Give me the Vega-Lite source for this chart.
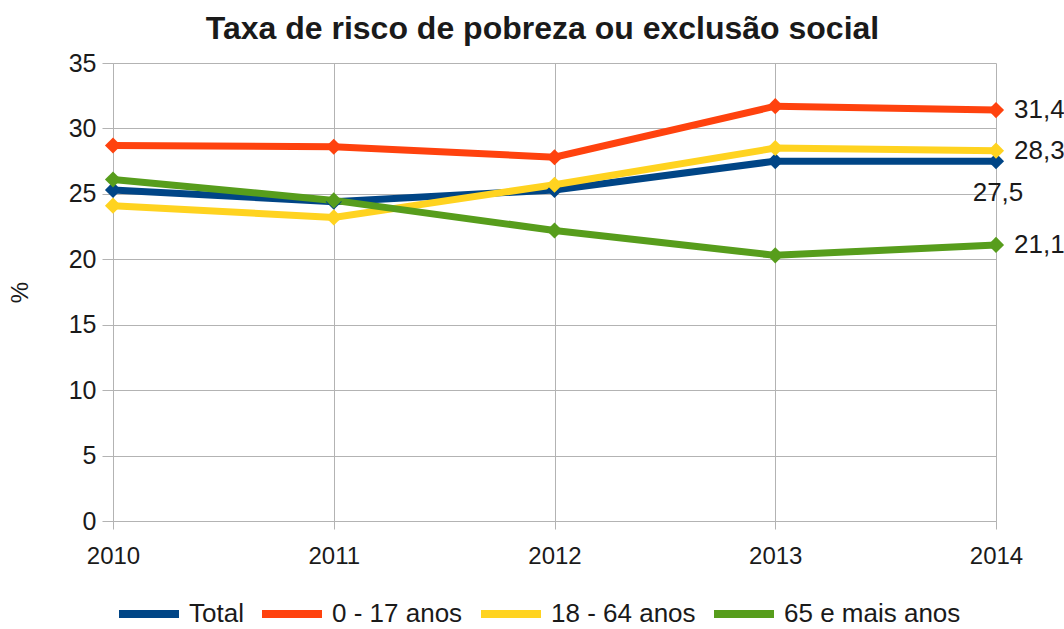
{
  "$schema": "https://vega.github.io/schema/vega-lite/v6.json",
  "autosize": {"type": "none"},
  "width": 883,
  "height": 458,
  "padding": {"left": 113, "top": 63, "right": 68, "bottom": 108},
  "background": "white",
  "title": {
    "text": "Taxa de risco de pobreza ou exclusão social",
    "font": "Liberation Sans",
    "fontSize": 32,
    "fontWeight": "bold",
    "color": "#1a1a1a",
    "anchor": "middle",
    "dx": -12,
    "offset": 5
  },
  "data": {
    "values": [
      {"ano": 2010, "grupo": "Total", "taxa": 25.3},
      {"ano": 2011, "grupo": "Total", "taxa": 24.4},
      {"ano": 2012, "grupo": "Total", "taxa": 25.3},
      {"ano": 2013, "grupo": "Total", "taxa": 27.5},
      {"ano": 2014, "grupo": "Total", "taxa": 27.5},
      {"ano": 2010, "grupo": "0 - 17 anos", "taxa": 28.7},
      {"ano": 2011, "grupo": "0 - 17 anos", "taxa": 28.6},
      {"ano": 2012, "grupo": "0 - 17 anos", "taxa": 27.8},
      {"ano": 2013, "grupo": "0 - 17 anos", "taxa": 31.7},
      {"ano": 2014, "grupo": "0 - 17 anos", "taxa": 31.4},
      {"ano": 2010, "grupo": "18 - 64 anos", "taxa": 24.1},
      {"ano": 2011, "grupo": "18 - 64 anos", "taxa": 23.2},
      {"ano": 2012, "grupo": "18 - 64 anos", "taxa": 25.7},
      {"ano": 2013, "grupo": "18 - 64 anos", "taxa": 28.5},
      {"ano": 2014, "grupo": "18 - 64 anos", "taxa": 28.3},
      {"ano": 2010, "grupo": "65 e mais anos", "taxa": 26.1},
      {"ano": 2011, "grupo": "65 e mais anos", "taxa": 24.5},
      {"ano": 2012, "grupo": "65 e mais anos", "taxa": 22.2},
      {"ano": 2013, "grupo": "65 e mais anos", "taxa": 20.3},
      {"ano": 2014, "grupo": "65 e mais anos", "taxa": 21.1}
    ]
  },
  "encoding": {
    "x": {
      "field": "ano", "type": "quantitative",
      "scale": {"domain": [2010, 2014], "nice": false, "zero": false},
      "axis": {
        "title": null, "format": "d", "values": [2010, 2011, 2012, 2013, 2014],
        "labelFontSize": 24, "labelPadding": 15, "tickSize": 8,
        "labelFlush": false
      }
    },
    "y": {
      "field": "taxa", "type": "quantitative",
      "scale": {"domain": [0, 35], "nice": false},
      "axis": {
        "title": "%", "values": [0, 5, 10, 15, 20, 25, 30, 35],
        "labelFontSize": 25, "labelPadding": 6, "tickSize": 11,
        "titleFontSize": 24, "titleFontWeight": "normal", "titlePadding": 36
      }
    },
    "color": {
      "field": "grupo", "type": "nominal",
      "scale": {
        "domain": ["Total", "0 - 17 anos", "18 - 64 anos", "65 e mais anos"],
        "range": ["#004586", "#ff420e", "#ffd320", "#579d1c"]
      },
      "legend": {
        "title": null,
        "orient": "none",
        "direction": "horizontal",
        "legendX": 2,
        "legendY": 517,
        "symbolType": "stroke",
        "symbolStrokeWidth": 8,
        "symbolSize": 3600,
        "labelFontSize": 26,
        "labelOffset": 6,
        "labelLimit": 400,
        "columnPadding": 2,
        "labelFont": "Liberation Sans",
        "labelColor": "#1a1a1a"
      }
    }
  },
  "layer": [
    {"mark": {"type": "line", "strokeWidth": 7}},
    {"mark": {"type": "point", "shape": "diamond", "filled": true, "opacity": 1, "size": 260}},
    {
      "transform": [{"filter": "datum.ano == 2014 && datum.grupo != 'Total'"}],
      "mark": {"type": "text", "align": "left", "baseline": "middle", "dx": 18, "fontSize": 26, "color": "#1a1a1a", "font": "Liberation Sans"},
      "encoding": {
        "text": {"field": "taxa", "type": "quantitative", "format": ".1f"},
        "color": {"value": "#1a1a1a"}
      }
    },
    {
      "transform": [{"filter": "datum.ano == 2014 && datum.grupo == 'Total'"}],
      "mark": {"type": "text", "align": "center", "baseline": "middle", "dx": 2, "dy": 32, "fontSize": 26, "color": "#1a1a1a", "font": "Liberation Sans"},
      "encoding": {
        "text": {"field": "taxa", "type": "quantitative", "format": ".1f"},
        "color": {"value": "#1a1a1a"}
      }
    }
  ],
  "config": {
    "locale": {"number": {"decimal": ",", "thousands": ".", "grouping": [3], "currency": ["", " €"]}},
    "font": "Liberation Sans",
    "view": {"stroke": null},
    "axis": {
      "labelFont": "Liberation Sans",
      "titleFont": "Liberation Sans",
      "labelColor": "#1a1a1a",
      "titleColor": "#1a1a1a",
      "gridColor": "#b3b3b3",
      "domainColor": "#b3b3b3",
      "tickColor": "#b3b3b3",
      "grid": true
    }
  }
}
